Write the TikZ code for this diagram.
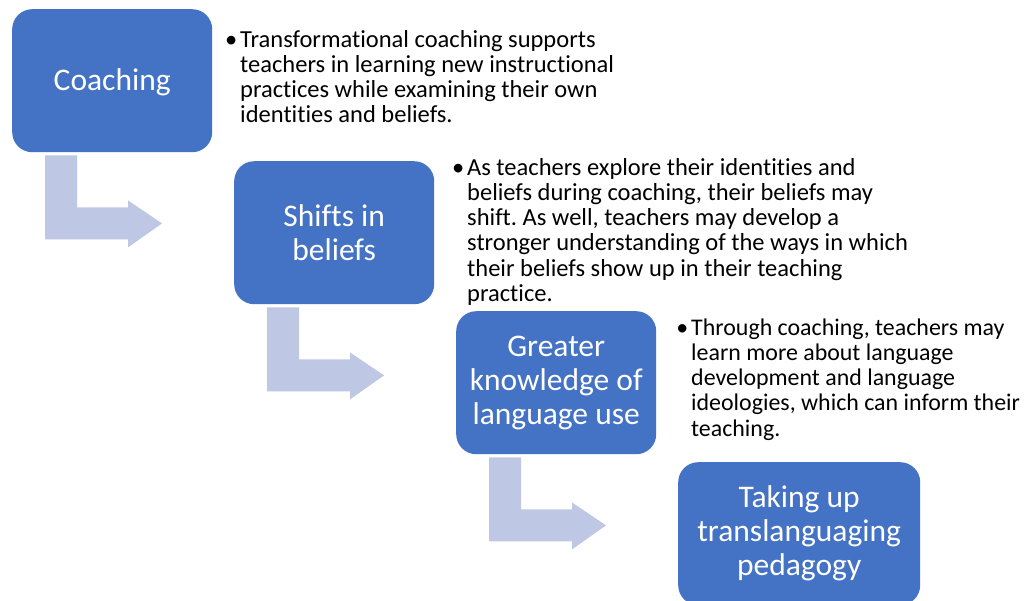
\documentclass[tikz,border=0pt]{standalone}
\usepackage{fontspec}
\setmainfont{Carlito}[Ligatures={NoCommon}]
\usetikzlibrary{calc}
\frenchspacing
\definecolor{boxblue}{RGB}{68,114,196}
\definecolor{arrowblue}{RGB}{190,200,228}
\tikzset{
  stepbox/.style={fill=boxblue, draw=none, rounded corners=20pt, minimum width=200pt, minimum height=143pt,
    anchor=north west, text=white, align=center, inner sep=0pt,
    font=\fontsize{31.5}{34}\selectfont},
  bendarrow/.style={fill=arrowblue, draw=none},
  note/.style={anchor=base west, inner sep=0pt, text=black, font=\fontsize{24.5}{25.3}\selectfont}
}
\newcommand{\bul}{\leavevmode\llap{•\hspace{3pt}}}
\begin{document}
\begin{tikzpicture}[x=1pt,y=-1pt]
\path[use as bounding box] (0,0) rectangle (1024,600);
\clip (0,0) rectangle (1024,600);
\fill[white] (0,0) rectangle (1024,600);
% boxes
\node[stepbox] (b1) at (12,9) {\raisebox{-10pt}[0pt][0pt]{Coaching}};
\node[stepbox] (b2) at (234,161) {Shifts in\\beliefs};
\node[stepbox] (b3) at (456,311) {Greater\\knowledge of\\language use};
\node[stepbox, minimum width=242pt, minimum height=143pt] (b4) at (678,462) {Taking up\\translanguaging\\pedagogy};
% bent arrows
\foreach \b in {b1,b2,b3}{
  \fill[bendarrow] ($(\b.south west)+(33,3)$) -- ($(\b.south west)+(65,3)$) -- ($(\b.south west)+(65,55)$)
    -- ($(\b.south west)+(116,55)$) -- ($(\b.south west)+(116,48)$) -- ($(\b.south west)+(150,71)$)
    -- ($(\b.south west)+(116,95)$) -- ($(\b.south west)+(116,87)$) -- ($(\b.south west)+(33,87)$) -- cycle;
}
% notes
\node[note] (t1) at (240,47) {\parbox[t]{420pt}{\raggedright\bul Transformational coaching supports\\teachers in learning new instructional\\practices while examining their own\\identities and beliefs.}};
\node[note] (t2) at (467,175) {\parbox[t]{500pt}{\raggedright\bul As teachers explore their identities and\\beliefs during coaching, their beliefs may\\shift. As well, teachers may develop a\\stronger understanding of the ways in which\\their beliefs show up in their teaching\\practice.}};
\node[note, font=\fontsize{23.9}{25.3}\selectfont] (t3) at (691,335) {\parbox[t]{400pt}{\raggedright\bul Through coaching, teachers may\\learn more about language\\development and language\\ideologies, which can inform their\\teaching.}};
\end{tikzpicture}
\end{document}
